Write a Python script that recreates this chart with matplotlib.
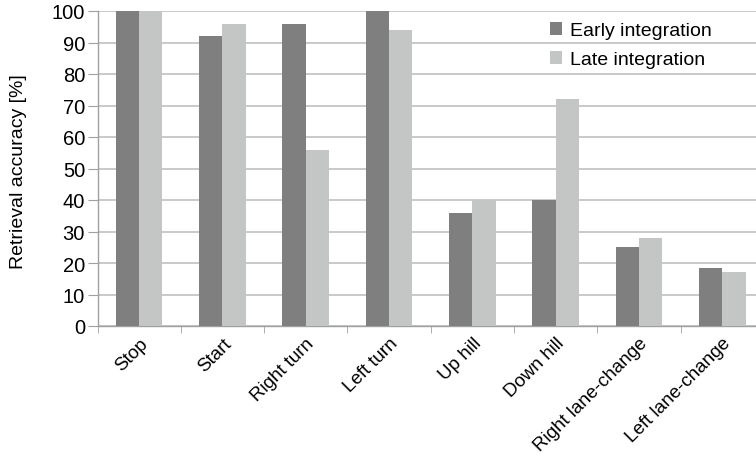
import numpy as np
import matplotlib.pyplot as plt

categories = ["Stop", "Start", "Right turn", "Left turn", "Up hill", "Down hill",
              "Right lane-change", "Left lane-change"]
early = [100, 92, 96, 100, 36, 40, 25, 18.5]
late = [100, 96, 56, 94, 40, 72, 28, 17]
yticks = [0, 10, 20, 30, 40, 50, 60, 70, 80, 90, 100]

plt.rcParams["font.family"] = ["Liberation Sans", "DejaVu Sans"]

fig = plt.figure(figsize=(7.56, 4.6), dpi=100)
ax = fig.add_axes([97.5 / 756, 1 - 327 / 460, (764 - 97.5) / 756, 315 / 460])

x = np.arange(len(categories))
w = 0.28
ax.bar(x - w / 2, early, width=w, color="#7f7f7f", label="Early integration", zorder=3)
ax.bar(x + w / 2, late, width=w, color="#c4c6c5", label="Late integration", zorder=3)

ax.set_xlim(-0.5, len(categories) - 0.5)
ax.set_ylim(0, 100)
ax.set_yticks(yticks)
ax.tick_params(axis="y", labelsize=14.5, length=7, color="#a0a0a0", pad=2)
ax.yaxis.grid(True, color="#c0c0c0", linewidth=1.2, zorder=0)

# category labels at centres, tick marks on the boundaries
ax.set_xticks(x)
ax.set_xticklabels(categories, rotation=45, ha="right", rotation_mode="anchor", fontsize=13.5)
ax.tick_params(axis="x", which="major", length=0, pad=6)
ax.set_xticks(np.arange(len(categories) + 1) - 0.5, minor=True)
ax.tick_params(axis="x", which="minor", length=5, color="#a0a0a0")

for side in ["top", "right"]:
    ax.spines[side].set_visible(False)
for side in ["left", "bottom"]:
    ax.spines[side].set_color("#a0a0a0")
    ax.spines[side].set_linewidth(1)

ax.set_ylabel("Retrieval accuracy [%]", fontsize=14)
ax.yaxis.set_label_coords(-0.106, 0.492)

ax.legend(loc="upper left", bbox_to_anchor=(550 / 756, 1 - 23 / 460),
          bbox_transform=fig.transFigure, frameon=False, fontsize=14,
          borderpad=0, borderaxespad=0,
          handlelength=0.62, handleheight=0.62, handletextpad=0.4, labelspacing=0.62)

fig.savefig("out.png", dpi=100)
